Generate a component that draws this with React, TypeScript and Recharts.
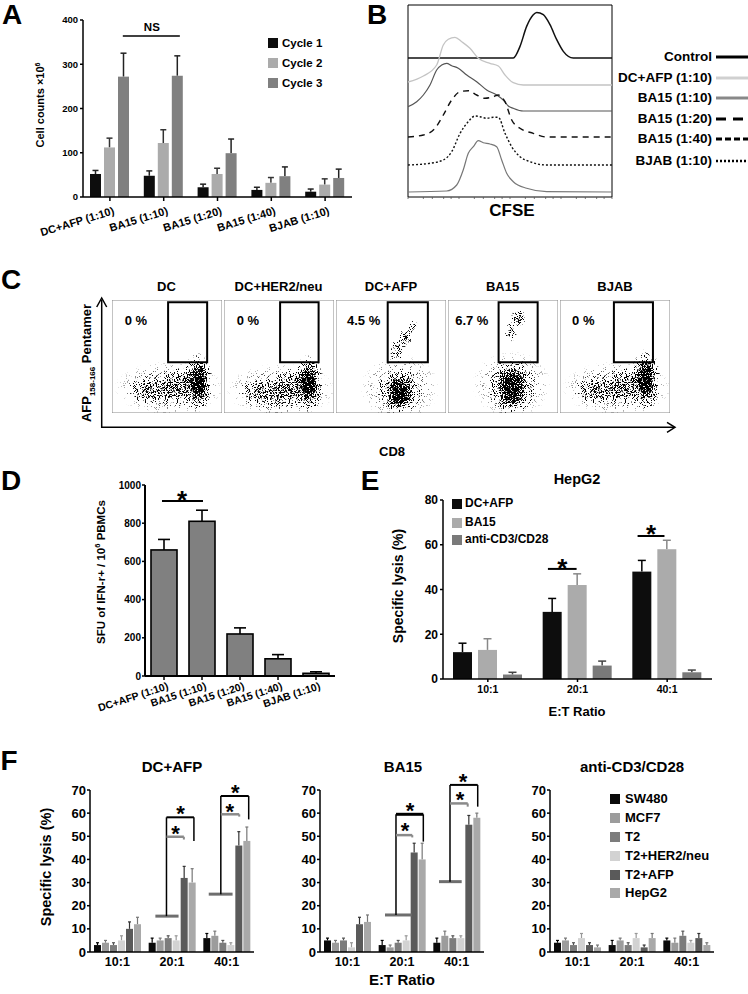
import React from 'react';
import {
  BarChart,
  Bar,
  XAxis,
  YAxis,
  ReferenceLine,
  ReferenceDot,
  ReferenceArea,
  LineChart,
  Line,
  ScatterChart,
  Scatter,
} from 'recharts';

const FONT = '"Liberation Sans", Arial, Helvetica, sans-serif';
const AXIS = { stroke: '#000', strokeWidth: 1.5 };

// ---------- A: cell expansion
const A_GROUPS = ['DC+AFP (1:10)', 'BA15 (1:10)', 'BA15 (1:20)', 'BA15 (1:40)', 'BJAB (1:10)'];
const A_CYCLE1 = [52, 48, 22, 16, 12];
const A_CYCLE1_ERR = [8, 11, 7, 6, 6];
const A_CYCLE2 = [112, 122, 52, 32, 28];
const A_CYCLE2_ERR = [21, 30, 13, 12, 13];
const A_CYCLE3 = [272, 274, 99, 47, 43];
const A_CYCLE3_ERR = [53, 45, 32, 21, 20];
const A_TICKS = [0, 100, 200, 300, 400];

// ---------- B: CFSE histograms (intensity, count above own baseline)
const CFSE_CONTROL_X = [1, 116, 157, 212, 286, 334, 450, 608, 824, 1110, 1742, 10000];
const CFSE_CONTROL_Y = [0, 0, 11.6, 31.6, 43.3, 45.6, 43.3, 33.3, 18.3, 6.6, 0, 0];
const CFSE_DCAFP_X = [1, 2.0, 3.65, 4.92, 6.17, 8.35, 11.3, 16.4, 23.9, 40.5, 59, 79.8, 116, 182, 10000];
const CFSE_DCAFP_Y = [3, 9, 20, 40, 45.7, 47.7, 43.3, 36.7, 26.7, 21.7, 19, 10, 2.3, 0, 0];
const CFSE_BA10_X = [1, 1.48, 2.0, 2.7, 3.65, 4.58, 5.74, 7.19, 9.69, 14.2, 22.2, 34.9, 54.8, 73.9, 92.6, 116, 182, 10000];
const CFSE_BA10_Y = [4.3, 9.3, 16, 26, 41, 46, 47.7, 45.3, 42.7, 36, 29.3, 21, 16, 11, 5, 2.7, 0, 0];
const CFSE_BA20_X = [1, 2.0, 3.38, 4.92, 7.19, 10.5, 15.2, 22.2, 32.3, 47.1, 59, 79.8, 108, 157, 286, 524, 10000];
const CFSE_BA20_Y = [0, 2, 8.7, 22, 37, 45.3, 46.3, 42, 38.7, 40.3, 42, 35.3, 17, 8.7, 3.7, 0, 0];
const CFSE_BA40_X = [1, 2.7, 4.92, 7.19, 10.5, 15.2, 20.6, 25.8, 34.9, 47.1, 59, 79.8, 108, 157, 247, 524, 10000];
const CFSE_BA40_Y = [0, 1.7, 5, 13.3, 31.7, 43.3, 49, 48.3, 46.7, 47.7, 47.7, 31.7, 18.3, 8.3, 3.3, 0, 0];
const CFSE_BJAB_X = [1, 5.74, 9.02, 12.1, 15.2, 19.1, 23.9, 29.9, 40.5, 54.8, 68.7, 86.1, 116, 212, 524, 10000];
const CFSE_BJAB_Y = [0, 1, 7, 22, 38.7, 45.3, 51.3, 49.3, 48, 45.3, 32, 18.7, 10.3, 3.7, 0.3, 0];
const CFSE_LEGEND = ['Control', 'DC+AFP (1:10)', 'BA15 (1:10)', 'BA15 (1:20)', 'BA15 (1:40)', 'BJAB (1:10)'];

// ---------- C: pentamer staining (cloud centre x/y, spread, density on 0-100 axes)
const C_TITLES = ['DC', 'DC+HER2/neu', 'DC+AFP', 'BA15', 'BJAB'];
const C_PERCENTS = ['0 %', '0 %', '4.5 %', '6.7 %', '0 %'];
const C_GATE_X1 = [51, 51, 47, 46, 49];
const C_GATE_X2 = [86.5, 86, 83.5, 81.5, 84.5];
const C_CLOUDS_DC = [
  { x: 52, y: 22, sx: 50, sy: 24, w: 0.25 },
  { x: 38, y: 20, sx: 26, sy: 14, w: 0.45 },
  { x: 62, y: 24, sx: 20, sy: 18, w: 0.45 },
  { x: 78, y: 27, sx: 14, sy: 27, w: 0.7 },
  { x: 79, y: 28, sx: 8, sy: 18, w: 1 },
];
const C_CLOUDS_HER2 = [
  { x: 52, y: 20, sx: 50, sy: 24, w: 0.25 },
  { x: 38, y: 18, sx: 26, sy: 14, w: 0.45 },
  { x: 60, y: 22, sx: 20, sy: 18, w: 0.45 },
  { x: 77, y: 26, sx: 14, sy: 26, w: 0.7 },
  { x: 77, y: 27, sx: 8, sy: 17, w: 1 },
];
const C_CLOUDS_AFP = [
  { x: 58, y: 22, sx: 36, sy: 30, w: 0.22 },
  { x: 58, y: 19, sx: 20, sy: 20, w: 0.7 },
  { x: 58, y: 18, sx: 11, sy: 14, w: 1 },
  { x: 55, y: 55, sx: 6, sy: 12, w: 0.5 },
  { x: 63, y: 66, sx: 6, sy: 10, w: 0.55 },
  { x: 70, y: 76, sx: 5, sy: 7, w: 0.4 },
];
const C_CLOUDS_BA15 = [
  { x: 58, y: 25, sx: 36, sy: 30, w: 0.22 },
  { x: 58, y: 23, sx: 22, sy: 26, w: 0.65 },
  { x: 58, y: 23, sx: 13, sy: 18, w: 1 },
  { x: 57, y: 72, sx: 6, sy: 9, w: 0.5 },
  { x: 64, y: 84, sx: 7, sy: 8, w: 0.65 },
];
const C_CLOUDS_BJAB = [
  { x: 52, y: 22, sx: 50, sy: 24, w: 0.25 },
  { x: 36, y: 20, sx: 26, sy: 14, w: 0.45 },
  { x: 60, y: 24, sx: 20, sy: 18, w: 0.45 },
  { x: 78, y: 29, sx: 14, sy: 28, w: 0.7 },
  { x: 78, y: 31, sx: 8, sy: 20, w: 1 },
];
const C_CLOUDS = [C_CLOUDS_DC, C_CLOUDS_HER2, C_CLOUDS_AFP, C_CLOUDS_BA15, C_CLOUDS_BJAB];

// ---------- D: ELISPOT
const D_GROUPS = ['DC+AFP (1:10)', 'BA15 (1:10)', 'BA15 (1:20)', 'BA15 (1:40)', 'BJAB (1:10)'];
const D_SFU = [660, 810, 220, 90, 14];
const D_SFU_ERR = [55, 58, 32, 22, 8];
const D_TICKS = [0, 200, 400, 600, 800, 1000];

// ---------- E: HepG2 lysis
const RATIOS = ['10:1', '20:1', '40:1'];
const E_DCAFP = [12, 30, 48];
const E_DCAFP_ERR = [4, 6, 5];
const E_BA15 = [13, 42, 58];
const E_BA15_ERR = [5, 5, 4];
const E_ANTI = [2, 6, 3];
const E_ANTI_ERR = [1, 2, 1];
const E_TICKS = [0, 20, 40, 60, 80];

// ---------- F: lysis by target (rows: SW480, MCF7, T2, T2+HER2/neu, T2+AFP, HepG2)
const TARGETS = ['SW480', 'MCF7', 'T2', 'T2+HER2/neu', 'T2+AFP', 'HepG2'];
const TARGET_COLORS = ['#0a0a0a', '#9c9c9c', '#7c7c7c', '#d2d2d2', '#5a5a5a', '#a9a9a9'];
const TARGET_ERR_COLORS = ['#000', '#777', '#555', '#999', '#333', '#777'];
const F_DCAFP = [[3, 4, 6], [4, 5, 7], [3, 6, 4], [5, 5, 3], [10, 32, 46], [12, 30, 48]];
const F_DCAFP_ERR = [[1, 2, 2], [1, 1, 2], [1, 1, 1], [2, 2, 1], [3, 5, 6], [3, 6, 6]];
const F_BA15 = [[5, 3, 4], [4, 2, 7], [5, 4, 6], [2, 5, 6], [12, 43, 55], [13, 40, 58]];
const F_BA15_ERR = [[1, 2, 2], [1, 1, 2], [1, 1, 1], [2, 2, 1], [3, 4, 4], [3, 7, 2]];
const F_ANTI = [[4, 3, 5], [5, 5, 4], [3, 3, 7], [6, 6, 4], [3, 2, 6], [2, 6, 3]];
const F_ANTI_ERR = [[1, 2, 1], [1, 1, 2], [1, 1, 2], [2, 2, 1], [1, 1, 2], [1, 2, 1]];
const F_TICKS = [0, 10, 20, 30, 40, 50, 60, 70];

// significance brackets, x in ratio-band units (0-3)
const F_DCAFP_SIG = [
  { baseY: 15.5, b1: 1.196, b2: 1.62, stem: 1.399, topY: 58.2, topX: 1.901, topEnd: 48, inY: 49.8, inX: 1.717, inEnd: 48.6, sTop: [1.657, 62], sIn: [1.564, 53.5], thick: false },
  { baseY: 25, b1: 2.172, b2: 2.608, stem: 2.393, topY: 67.4, topX: 2.903, topEnd: 57.3, inY: 59.5, inX: 2.73, inEnd: 58.5, sTop: [2.656, 71.3], sIn: [2.558, 63], thick: false },
];
const F_BA15_SIG = [
  { baseY: 16, b1: 1.189, b2: 1.677, stem: 1.39, topY: 59.5, topX: 1.89, topEnd: 47.7, inY: 50.5, inX: 1.688, inEnd: 49.5, sTop: [1.646, 63.5], sIn: [1.555, 54.5], thick: true },
  { baseY: 30.4, b1: 2.177, b2: 2.592, stem: 2.378, topY: 72.2, topX: 2.885, topEnd: 62.8, inY: 64.2, inX: 2.702, inEnd: 62.8, sTop: [2.616, 76], sIn: [2.561, 68], thick: false },
];

function errBar(key: string, errKey: string, cap: number, errColor: string, lw: number, outline?: number) {
  return (props: any) => {
    const { x, y, width, height, fill, payload } = props;
    const v = payload[key];
    const err = payload[errKey];
    const k = v > 0 ? height / v : 0;
    const top = y - err * k;
    const cx = x + width / 2;
    return (
      <g>
        <line x1={cx} x2={cx} y1={y} y2={top} stroke={errColor} strokeWidth={lw} />
        <line x1={cx - cap} x2={cx + cap} y1={top} y2={top} stroke={errColor} strokeWidth={lw} />
        <rect x={x} y={y} width={width} height={height} fill={fill} stroke={outline ? '#000' : 'none'} strokeWidth={outline || 0} />
      </g>
    );
  };
}

const star = (fs: number) => (p: any) => (
  <text x={p.cx} y={p.cy + fs * 0.57} textAnchor="middle" fontSize={fs} fontWeight={700} fontFamily={FONT} fill="#000">
    *
  </text>
);

const word = (label: string, fs: number) => (p: any) => (
  <text x={p.cx} y={p.cy} textAnchor="middle" dominantBaseline="central" fontSize={fs} fontWeight={700} fontFamily={FONT} fill="#000">
    {label}
  </text>
);

const slantTick = (labels: string[], fs: number, dx: number, dy: number, angle: number) => (p: any) => {
  const tx = p.x + dx;
  const ty = p.y + dy;
  return (
    <text x={tx} y={ty} textAnchor="end" fontSize={fs} fontWeight={700} fontFamily={FONT} fill="#000" transform={`rotate(${angle}, ${tx}, ${ty})`}>
      {labels[Math.floor(p.payload.value)]}
    </text>
  );
};

const tickFont = (fs: number) => ({ fill: '#000', fontSize: fs, fontWeight: 700, fontFamily: FONT });
const bandTicks = (n: number) => Array.from({ length: n }, (_, i) => i + 0.5);

function Txt(props: { x: number; y: number; size: number; anchor?: string; rotate?: number; children: React.ReactNode }) {
  const { x, y, size, anchor = 'middle', rotate = 0, children } = props;
  const tx = anchor === 'middle' ? '-50%' : anchor === 'end' ? '-100%' : '0';
  return (
    <div
      style={{
        position: 'absolute',
        left: x,
        top: y,
        transform: `translate(${tx}, -50%) rotate(${rotate}deg)`,
        fontSize: size,
        fontWeight: 700,
        fontFamily: FONT,
        whiteSpace: 'nowrap',
        lineHeight: 1.1,
        color: '#000',
      }}
    >
      {children}
    </div>
  );
}

function Swatch({ x, y, color }: { x: number; y: number; color: string }) {
  return <div style={{ position: 'absolute', left: x, top: y - 5, width: 10, height: 10, background: color }} />;
}

function PanelA() {
  const data = A_GROUPS.map((g, i) => ({
    pos: i + 0.5,
    c1: A_CYCLE1[i],
    c1e: A_CYCLE1_ERR[i],
    c2: A_CYCLE2[i],
    c2e: A_CYCLE2_ERR[i],
    c3: A_CYCLE3[i],
    c3e: A_CYCLE3_ERR[i],
  }));
  return (
    <div style={{ position: 'absolute', left: 0, top: 0 }}>
      <BarChart width={360} height={240} data={data} margin={{ top: 20, right: 8, left: 0, bottom: 0 }} barSize={11} barGap={3}>
        <XAxis
          type="number"
          dataKey="pos"
          domain={[0, 5]}
          ticks={bandTicks(5)}
          allowDataOverflow
          height={43}
          tickSize={4}
          axisLine={AXIS}
          tickLine={AXIS}
          tick={slantTick(A_GROUPS, 11, 5, 11, -17)}
        />
        <YAxis domain={[0, 400]} ticks={A_TICKS} width={83} tickSize={3} tickMargin={2} axisLine={AXIS} tickLine={AXIS} tick={tickFont(9.5)} />
        <Bar dataKey="c1" fill="#0d0d0d" shape={errBar('c1', 'c1e', 3, '#222', 1.5)} isAnimationActive={false} />
        <Bar dataKey="c2" fill="#ababab" shape={errBar('c2', 'c2e', 3, '#333', 1.5)} isAnimationActive={false} />
        <Bar dataKey="c3" fill="#808080" shape={errBar('c3', 'c3e', 3, '#222', 1.5)} isAnimationActive={false} />
        <ReferenceLine segment={[{ x: 0.74, y: 364 }, { x: 1.8, y: 364 }]} stroke="#000" strokeWidth={1.5} ifOverflow="visible" />
        <ReferenceDot x={1.28} y={385} r={0} shape={word('NS', 11.5)} ifOverflow="visible" />
      </BarChart>
      <Txt x={40} y={105} size={11} rotate={-90}>
        Cell counts ×10<sup style={{ fontSize: 7 }}>6</sup>
      </Txt>
      <Swatch x={268} y={43} color="#0d0d0d" />
      <Swatch x={268} y={63} color="#ababab" />
      <Swatch x={268} y={83} color="#808080" />
      <Txt x={282} y={43} size={11.5} anchor="start">Cycle 1</Txt>
      <Txt x={282} y={63} size={11.5} anchor="start">Cycle 2</Txt>
      <Txt x={282} y={83} size={11.5} anchor="start">Cycle 3</Txt>
    </div>
  );
}

const CFSE_CURVES = [
  { xs: CFSE_CONTROL_X, ys: CFSE_CONTROL_Y, base: 139, stroke: '#111', dash: undefined, w: 1.5 },
  { xs: CFSE_DCAFP_X, ys: CFSE_DCAFP_Y, base: 112, stroke: '#c4c4c4', dash: undefined, w: 1.3 },
  { xs: CFSE_BA10_X, ys: CFSE_BA10_Y, base: 86, stroke: '#555', dash: undefined, w: 1.2 },
  { xs: CFSE_BA20_X, ys: CFSE_BA20_Y, base: 60, stroke: '#111', dash: '6 5', w: 1.4 },
  { xs: CFSE_BA40_X, ys: CFSE_BA40_Y, base: 32, stroke: '#111', dash: '2 2', w: 1.4 },
  { xs: CFSE_BJAB_X, ys: CFSE_BJAB_Y, base: 5, stroke: '#777', dash: undefined, w: 1.2 },
];
const LOG_TICKS = [1, 10, 100, 1000].flatMap((d) => [1, 2, 3, 4, 5, 6, 7, 8, 9].map((m) => d * m)).concat([10000]);
const LEGEND_LINES = [
  { stroke: '#000', dash: undefined, w: 3 },
  { stroke: '#d0d0d0', dash: undefined, w: 3 },
  { stroke: '#888', dash: undefined, w: 3 },
  { stroke: '#000', dash: '10 7', w: 3 },
  { stroke: '#000', dash: '6 3', w: 3 },
  { stroke: '#000', dash: '2 2', w: 2.5 },
];

function PanelB() {
  const rows = [57, 78, 98, 119, 139, 161];
  return (
    <>
      <div style={{ position: 'absolute', left: 400, top: 0 }}>
        <LineChart width={220} height={205} margin={{ top: 5, right: 8, left: 8, bottom: 0 }}>
          <XAxis
            type="number"
            dataKey="x"
            scale="log"
            domain={[1, 10000]}
            allowDataOverflow
            ticks={LOG_TICKS}
            tickFormatter={() => ''}
            tickSize={2}
            height={8}
            axisLine={false}
            tickLine={{ stroke: '#555', strokeWidth: 0.8 }}
          />
          <YAxis type="number" domain={[0, 192]} hide />
          <ReferenceArea x1={1} x2={10000} y1={0} y2={192} fill="none" stroke="#000" strokeWidth={1} />
          {CFSE_CURVES.map((c, i) => (
            <Line
              key={i}
              data={c.xs.map((x, j) => ({ x, y: c.base + c.ys[j] }))}
              dataKey="y"
              type="monotone"
              stroke={c.stroke}
              strokeWidth={c.w}
              strokeDasharray={c.dash}
              dot={false}
              isAnimationActive={false}
            />
          ))}
        </LineChart>
      </div>
      <Txt x={512} y={211} size={17}>CFSE</Txt>
      {CFSE_LEGEND.map((t, i) => (
        <Txt key={t} x={712} y={rows[i]} size={13.5} anchor="end">{t}</Txt>
      ))}
      <svg style={{ position: 'absolute', left: 0, top: 0 }} width={748} height={200}>
        {LEGEND_LINES.map((l, i) => (
          <line key={i} x1={716} x2={748} y1={rows[i]} y2={rows[i]} stroke={l.stroke} strokeWidth={l.w} strokeDasharray={l.dash} />
        ))}
      </svg>
    </>
  );
}

const Cloud = (p: any) => {
  const rx = (p.payload.sx / 100) * 110;
  const ry = (p.payload.sy / 100) * 113;
  return <ellipse cx={p.cx} cy={p.cy} rx={rx} ry={ry} fill="url(#cloudGrad)" opacity={p.payload.w} />;
};

function PanelC() {
  const lefts = [111.5, 223.5, 336, 447.5, 560];
  const pctX = [12, 12, 10, 7, 11];
  return (
    <>
      {C_TITLES.map((t, i) => (
        <React.Fragment key={t}>
          <div style={{ position: 'absolute', left: lefts[i], top: 300 }}>
            <ScatterChart width={110} height={113} margin={{ top: 0, right: 0, bottom: 0, left: 0 }}>
              <XAxis type="number" dataKey="x" domain={[0, 100]} hide />
              <YAxis type="number" dataKey="y" domain={[0, 100]} hide />
              <Scatter data={C_CLOUDS[i]} shape={Cloud} isAnimationActive={false} />
              <ReferenceArea x1={0} x2={100} y1={0} y2={100} fill="none" stroke="#888" strokeWidth={1} />
              <ReferenceArea x1={C_GATE_X1[i]} x2={C_GATE_X2[i]} y1={45} y2={98} fill="none" stroke="#000" strokeWidth={2} />
            </ScatterChart>
          </div>
          <Txt x={lefts[i] + 55} y={287} size={13}>{t}</Txt>
          <Txt x={lefts[i] + (pctX[i] / 100) * 110} y={321} size={13} anchor="start">{C_PERCENTS[i]}</Txt>
        </React.Fragment>
      ))}
      <svg style={{ position: 'absolute', left: 0, top: 280 }} width={748} height={160}>
        <line x1={101.7} x2={101.7} y1={148} y2={20} stroke="#000" strokeWidth={1.5} />
        <polyline points="96.7,27 101.7,18 106.7,27" fill="none" stroke="#000" strokeWidth={1.5} />
        <line x1={101} x2={674} y1={147.3} y2={147.3} stroke="#000" strokeWidth={1.5} />
        <polyline points="667,142.3 675,147.3 667,152.3" fill="none" stroke="#000" strokeWidth={1.5} />
      </svg>
      <Txt x={392} y={452} size={13}>CD8</Txt>
      <Txt x={89} y={363} size={13} rotate={-90}>
        AFP<sub style={{ fontSize: 8 }}>158-166</sub> Pentamer
      </Txt>
    </>
  );
}

function PanelD() {
  const data = D_GROUPS.map((g, i) => ({ pos: i + 0.5, sfu: D_SFU[i], err: D_SFU_ERR[i] }));
  return (
    <div style={{ position: 'absolute', left: 0, top: 470 }}>
      <BarChart width={345} height={250} data={data} margin={{ top: 15, right: 10, left: 0, bottom: 0 }} barSize={26}>
        <XAxis
          type="number"
          dataKey="pos"
          domain={[0, 5]}
          ticks={bandTicks(5)}
          allowDataOverflow
          height={44}
          tickSize={4}
          axisLine={{ stroke: '#000', strokeWidth: 2 }}
          tickLine={AXIS}
          tick={slantTick(D_GROUPS, 10.5, 5, 7, -18)}
        />
        <YAxis domain={[0, 1000]} ticks={D_TICKS} width={145} tickSize={3} tickMargin={1} axisLine={{ stroke: '#000', strokeWidth: 2 }} tickLine={AXIS} tick={tickFont(10)} />
        <Bar dataKey="sfu" fill="#808080" shape={errBar('sfu', 'err', 6, '#000', 1.6, 1.6)} isAnimationActive={false} />
        <ReferenceLine segment={[{ x: 0.447, y: 916 }, { x: 1.526, y: 916 }]} stroke="#000" strokeWidth={2} ifOverflow="visible" />
        <ReferenceDot x={0.974} y={950} r={0} shape={star(26)} ifOverflow="visible" />
      </BarChart>
      <Txt x={101} y={102} size={11.5} rotate={-90}>
        SFU of IFN-r+ / 10<sup style={{ fontSize: 7.5 }}>6</sup> PBMCs
      </Txt>
    </div>
  );
}

function PanelE() {
  const data = RATIOS.map((r, i) => ({
    pos: i + 0.5,
    dc: E_DCAFP[i],
    dce: E_DCAFP_ERR[i],
    ba: E_BA15[i],
    bae: E_BA15_ERR[i],
    an: E_ANTI[i],
    ane: E_ANTI_ERR[i],
  }));
  return (
    <div style={{ position: 'absolute', left: 380, top: 470 }}>
      <BarChart width={340} height={230} data={data} margin={{ top: 30, right: 8, left: 0, bottom: 0 }} barSize={19} barGap={6}>
        <XAxis
          type="number"
          dataKey="pos"
          domain={[0, 3]}
          ticks={bandTicks(3)}
          tickFormatter={(v: number) => RATIOS[Math.floor(v)]}
          allowDataOverflow
          height={21}
          tickSize={3}
          tickMargin={4}
          axisLine={AXIS}
          tickLine={AXIS}
          tick={tickFont(10.5)}
        />
        <YAxis domain={[0, 80]} ticks={E_TICKS} width={63} tickSize={3} tickMargin={2} axisLine={AXIS} tickLine={AXIS} tick={tickFont(12)} />
        <Bar dataKey="dc" fill="#0d0d0d" shape={errBar('dc', 'dce', 4, '#000', 1.5)} isAnimationActive={false} />
        <Bar dataKey="ba" fill="#ababab" shape={errBar('ba', 'bae', 4, '#888', 1.5)} isAnimationActive={false} />
        <Bar dataKey="an" fill="#7a7a7a" shape={errBar('an', 'ane', 4, '#444', 1.5)} isAnimationActive={false} />
        <ReferenceLine segment={[{ x: 1.17, y: 49.2 }, { x: 1.49, y: 49.2 }]} stroke="#000" strokeWidth={2} ifOverflow="visible" />
        <ReferenceDot x={1.33} y={52.3} r={0} shape={star(26)} ifOverflow="visible" />
        <ReferenceLine segment={[{ x: 2.17, y: 63.9 }, { x: 2.47, y: 63.9 }]} stroke="#000" strokeWidth={2} ifOverflow="visible" />
        <ReferenceDot x={2.32} y={67.2} r={0} shape={star(26)} ifOverflow="visible" />
      </BarChart>
      <Txt x={197} y={10} size={14.5}>HepG2</Txt>
      <Txt x={19} y={116} size={14} rotate={-90}>Specific lysis (%)</Txt>
      <Txt x={197} y={242} size={13}>E:T Ratio</Txt>
      <Swatch x={72} y={34} color="#0d0d0d" />
      <Swatch x={72} y={53} color="#ababab" />
      <Swatch x={72} y={70} color="#7a7a7a" />
      <Txt x={85} y={34} size={12} anchor="start">DC+AFP</Txt>
      <Txt x={85} y={53} size={12} anchor="start">BA15</Txt>
      <Txt x={85} y={70} size={12} anchor="start">anti-CD3/CD28</Txt>
    </div>
  );
}

type Sig = (typeof F_DCAFP_SIG)[number];

function sigBracket(s: Sig, k: string) {
  const seg = (x1: number, y1: number, x2: number, y2: number, color: string, w: number, id: string) => (
    <ReferenceLine key={k + id} segment={[{ x: x1, y: y1 }, { x: x2, y: y2 }]} stroke={color} strokeWidth={w} ifOverflow="visible" />
  );
  return [
    seg(s.b1, s.baseY, s.b2, s.baseY, '#6e6e6e', 3, 'base'),
    seg(s.stem, s.baseY, s.stem, s.topY, '#000', 1.5, 'stem'),
    seg(s.stem, s.topY, s.topX, s.topY, '#000', s.thick ? 3 : 2, 'top'),
    seg(s.topX, s.topY, s.topX, s.topEnd, '#000', 1.5, 'down'),
    seg(s.stem, s.inY, s.inX, s.inY, '#8a8a8a', 2.5, 'in'),
    seg(s.inX, s.inY, s.inX, s.inEnd, '#8a8a8a', 2, 'indown'),
    <ReferenceDot key={k + 's1'} x={s.sTop[0]} y={s.sTop[1]} r={0} shape={star(22)} ifOverflow="visible" />,
    <ReferenceDot key={k + 's2'} x={s.sIn[0]} y={s.sIn[1]} r={0} shape={star(22)} ifOverflow="visible" />,
  ];
}

function PanelF(props: { left: number; width: number; yWidth: number; values: number[][]; errors: number[][]; sig: Sig[] }) {
  const { left, width, yWidth, values, errors, sig } = props;
  const data = RATIOS.map((r, i) => {
    const row: Record<string, number> = { pos: i + 0.5 };
    TARGETS.forEach((_, t) => {
      row['t' + t] = values[t][i];
      row['e' + t] = errors[t][i];
    });
    return row;
  });
  return (
    <div style={{ position: 'absolute', left, top: 770 }}>
      <BarChart width={width} height={201} data={data} margin={{ top: 20, right: width - yWidth - 164, left: 0, bottom: 0 }} barSize={7} barGap={1}>
        <XAxis
          type="number"
          dataKey="pos"
          domain={[0, 3]}
          ticks={bandTicks(3)}
          tickFormatter={(v: number) => RATIOS[Math.floor(v)]}
          allowDataOverflow
          height={19}
          tickSize={0}
          tickMargin={5}
          axisLine={AXIS}
          tickLine={false}
          tick={tickFont(12.5)}
        />
        <YAxis domain={[0, 70]} ticks={F_TICKS} width={yWidth} tickSize={3} tickMargin={1} axisLine={AXIS} tickLine={AXIS} tick={tickFont(13)} />
        {TARGETS.map((t, i) => (
          <Bar key={t} dataKey={'t' + i} fill={TARGET_COLORS[i]} shape={errBar('t' + i, 'e' + i, 1.5, TARGET_ERR_COLORS[i], 1.2)} isAnimationActive={false} />
        ))}
        {sig.flatMap((s, i) => sigBracket(s, 'b' + i))}
      </BarChart>
    </div>
  );
}

export default function App() {
  const fRows = [799, 818, 837, 856, 875, 893];
  return (
    <div style={{ position: 'absolute', left: 0, top: 0, width: 748, height: 994, background: '#fff', overflow: 'hidden' }}>
      <style>{'.recharts-scatter { filter: url(#speckle); }'}</style>
      <svg width={0} height={0} style={{ position: 'absolute' }}>
        <defs>
          <radialGradient id="cloudGrad">
            <stop offset="0%" stopColor="#000" stopOpacity={1} />
            <stop offset="45%" stopColor="#000" stopOpacity={0.7} />
            <stop offset="100%" stopColor="#000" stopOpacity={0} />
          </radialGradient>
          <filter id="speckle" filterUnits="userSpaceOnUse" x={-20} y={-20} width={160} height={160}>
            <feTurbulence type="fractalNoise" baseFrequency="1.1" numOctaves={1} seed={4} result="noise" />
            <feColorMatrix in="noise" type="matrix" values="0 0 0 0 0  0 0 0 0 0  0 0 0 0 0  0 0 0 3 -1" result="thr" />
            <feComposite in="SourceAlpha" in2="thr" operator="arithmetic" k1={0} k2={6} k3={-6} k4={0} />
          </filter>
        </defs>
      </svg>

      <Txt x={12} y={15} size={28}>A</Txt>
      <Txt x={377} y={15} size={28}>B</Txt>
      <Txt x={11} y={280} size={28}>C</Txt>
      <Txt x={11} y={481} size={28}>D</Txt>
      <Txt x={370} y={481} size={28}>E</Txt>
      <Txt x={9} y={761} size={28}>F</Txt>

      <PanelA />
      <PanelB />
      <PanelC />
      <PanelD />
      <PanelE />

      <PanelF left={0} width={262} yWidth={90} values={F_DCAFP} errors={F_DCAFP_ERR} sig={F_DCAFP_SIG} />
      <PanelF left={250} width={240} yWidth={70} values={F_BA15} errors={F_BA15_ERR} sig={F_BA15_SIG} />
      <PanelF left={490} width={230} yWidth={60} values={F_ANTI} errors={F_ANTI_ERR} sig={[]} />

      <Txt x={172} y={767} size={15}>DC+AFP</Txt>
      <Txt x={403} y={767} size={15}>BA15</Txt>
      <Txt x={632} y={767} size={15}>anti-CD3/CD28</Txt>
      <Txt x={47} y={867} size={14.5} rotate={-90}>Specific lysis (%)</Txt>
      <Txt x={402} y={980} size={15}>E:T Ratio</Txt>
      {TARGETS.map((t, i) => (
        <React.Fragment key={t}>
          <Swatch x={610} y={fRows[i]} color={TARGET_COLORS[i]} />
          <Txt x={625} y={fRows[i]} size={13} anchor="start">{t}</Txt>
        </React.Fragment>
      ))}
    </div>
  );
}
